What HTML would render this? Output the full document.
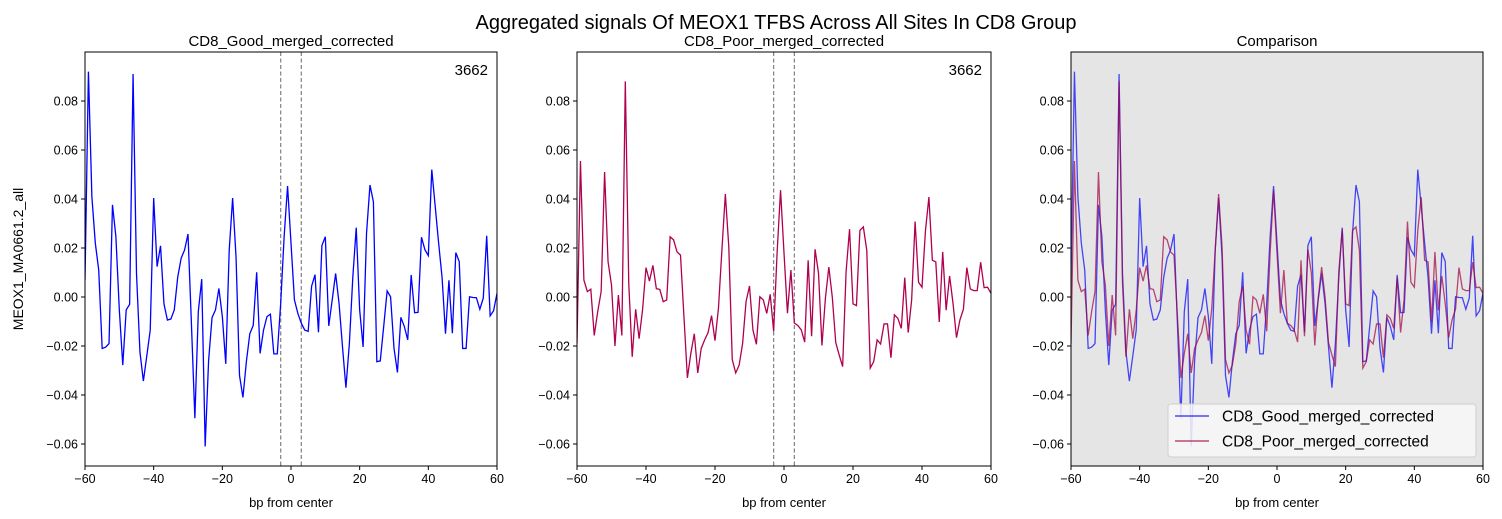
<!DOCTYPE html>
<html><head><meta charset="utf-8"><style>
body{margin:0;background:#fff;}
svg{display:block;font-family:"Liberation Sans","DejaVu Sans",sans-serif;}
</style></head><body>
<svg id="chart" width="1502" height="519" viewBox="0 0 1502 519">
<text x="776" y="29" font-size="20" text-anchor="middle" fill="#000">Aggregated signals Of MEOX1 TFBS Across All Sites In CD8 Group</text>
<text transform="translate(23,259) rotate(-90)" font-size="14" text-anchor="middle">MEOX1_MA0661.2_all</text>
<g id="panels"></g>
</svg>
<script>
const bp = [];
for (let i = -60; i <= 60; i++) bp.push(i);
const goodVals = [6.9,92,41,22,11,-21,-20.5,-19,37.6,24.6,-5.3,-27.8,-5.3,-3,91,9.6,-22.4,-34.3,-24,-13.5,40.4,12.4,20.9,-2.8,-9.4,-9,-5.3,8,15.8,19.2,25.7,-11,-49.5,-6,7.3,-61,-26,-8.4,-5.3,3.5,-8,-27.3,19,40.4,16,-32,-41,-26.4,-15,-11.6,10.1,-23,-13.5,-8,-7,-23.2,-23.2,-2.6,24.6,45.3,
22,-1.2,-6.7,-10.7,-13.5,-14,4.4,9.1,-14.4,21,24.6,-11.8,-1.2,9.6,-2.7,-20.4,-37,-19,8,28.3,-5.3,-20.4,26,45.7,38.9,-26.4,-26.1,-12,2.5,0.1,-20.9,-30.8,-8.3,-12,-17.5,9,-6.4,-6.3,24.4,19.3,16.9,52,37,22,8,-15,6.8,-14.8,18.1,14.5,-21,-21,0.1,-0.2,-0.3,-5,-0.5,25,-7.7,-5.6,1.5];
const poorVals = [-19,55.5,6.9,2.2,3.2,-15.7,-6,2.2,51,14.4,4.9,-20,0.8,-15.7,88,5.6,-24.4,-5,-17,-5.3,12,6.5,12.9,3.4,3.1,-1.9,-1.2,24.6,23.3,18.4,17.1,-8,-33,-23,-15,-31,-21,-17.5,-14.5,-7.6,-17.8,-4.6,19.2,42,20.5,-25.5,-31,-27.8,-19,-1.9,4.5,-13.5,-19.3,0.1,-1.2,-6.7,1.1,-14,18,43.6,
18,-6.6,11,-10.6,-11.6,-13.4,-18.4,15,-16,19.5,9.8,-19.8,-0.5,12.2,-0.1,-18.6,-23.7,-28.4,10.4,27.7,-2.8,-3.5,27.2,28.6,19,-29,-26.4,-17.5,-19.2,-11,-11,-24.8,-7.3,-8.7,-12.8,7.9,-14.5,-1.2,30.8,6,4,27,40.8,15,14.3,-10.2,18.4,-5.4,8.6,-2.7,-16.6,-9.3,-5,12,3.3,2.6,2.6,14.2,3.8,4,1.5];
const xTicks = [-60,-40,-20,0,20,40,60];
const yTicks = [-0.06,-0.04,-0.02,0.00,0.02,0.04,0.06,0.08];
const yTickLabels = ["−0.06","−0.04","−0.02","0.00","0.02","0.04","0.06","0.08"];
const countLabel = "3662";

const NS="http://www.w3.org/2000/svg";
const plotTop=52,plotBottom=466;
function yScale(v){return 297 - v*2450;}
function mk(tag,attrs,parent){const e=document.createElementNS(NS,tag);for(const k in attrs)e.setAttribute(k,attrs[k]);parent.appendChild(e);return e;}
const panels=[
 {name:"good-panel",x0:85,x1:497,title:"CD8_Good_merged_corrected",series:[["good",goodVals,"#0000ff",1]],vlines:true,bg:"#fff"},
 {name:"poor-panel",x0:577,x1:991,title:"CD8_Poor_merged_corrected",series:[["poor",poorVals,"#b0004f",1]],vlines:true,bg:"#fff"},
 {name:"comparison-panel",x0:1071,x1:1483,title:"Comparison",series:[["good",goodVals,"#0000ff",0.7],["poor",poorVals,"#a00040",0.7]],vlines:false,bg:"#e5e5e5"}
];
const root=document.getElementById('panels');
panels.forEach((p,pi)=>{
 const g=mk('g',{},root);
 
 
 const xs=v=>p.x0+(v+60)/120*(p.x1-p.x0);
 const bg=mk('rect',{x:p.x0,y:plotTop,width:p.x1-p.x0,height:plotBottom-plotTop,fill:p.bg},g);
 
 
 const cid='clip'+pi;
 const cp=mk('clipPath',{id:cid},g);mk('rect',{x:p.x0,y:plotTop,width:p.x1-p.x0,height:plotBottom-plotTop},cp);
 if(p.vlines){[-3,3].forEach(v=>{const l=mk('line',{x1:xs(v),x2:xs(v),y1:plotTop,y2:plotBottom,stroke:'#808080','stroke-width':1.2,'stroke-dasharray':'4,2.5'},g);
  
  });}
 p.series.forEach(s=>{
  const d=s[1].map((v,i)=>(i?'L':'M')+xs(bp[i]).toFixed(2)+','+yScale(v/1000).toFixed(2)).join('');
  const path=mk('path',{d:d,fill:'none',stroke:s[2],'stroke-opacity':s[3],'stroke-width':1.3,'clip-path':'url(#'+cid+')'},g);
  
  
 });
 mk('rect',{x:p.x0,y:plotTop,width:p.x1-p.x0,height:plotBottom-plotTop,fill:'none',stroke:'#000','stroke-width':1},g);
 xTicks.forEach(t=>{const x=xs(t);mk('line',{x1:x,x2:x,y1:plotBottom,y2:plotBottom+4,stroke:'#000'},g);
  const tx=mk('text',{x:x,y:plotBottom+17,'font-size':12.5,'text-anchor':'middle'},g);tx.textContent=(t<0?'−':'')+Math.abs(t);
  
  });
 yTicks.forEach((t,i)=>{const y=yScale(t);mk('line',{x1:p.x0-4,x2:p.x0,y1:y,y2:y,stroke:'#000'},g);
  const tx=mk('text',{x:p.x0-7,y:y+4.5,'font-size':12.5,'text-anchor':'end'},g);tx.textContent=yTickLabels[i];
  
  });
 const tt=mk('text',{x:(p.x0+p.x1)/2,y:46,'font-size':15,'text-anchor':'middle'},g);tt.textContent=p.title;
 
 
 const xl=mk('text',{x:(p.x0+p.x1)/2,y:507,'font-size':13,'text-anchor':'middle'},g);xl.textContent='bp from center';
 
 
 if(p.vlines){const c=mk('text',{x:p.x1-9,y:75,'font-size':15,'text-anchor':'end'},g);c.textContent=countLabel;
  
  }
 if(pi===2){
  const lg=mk('g',{},g);
  
  
  mk('rect',{x:1168,y:404,width:308,height:53,rx:3,fill:'#f8f8f8','fill-opacity':0.85,stroke:'#d0d0d0'},lg);
  [['CD8_Good_merged_corrected','#0000ff',416],['CD8_Poor_merged_corrected','#a00040',441]].forEach(e=>{
   const le=mk('g',{},lg);
   
   
   mk('line',{x1:1175,x2:1209,y1:e[2],y2:e[2],stroke:e[1],'stroke-opacity':0.7,'stroke-width':1.5},le);
   const t=mk('text',{x:1222,y:e[2]+5.5,'font-size':15.5},le);t.textContent=e[0];
  });
 }
});
</script>
</body></html>
